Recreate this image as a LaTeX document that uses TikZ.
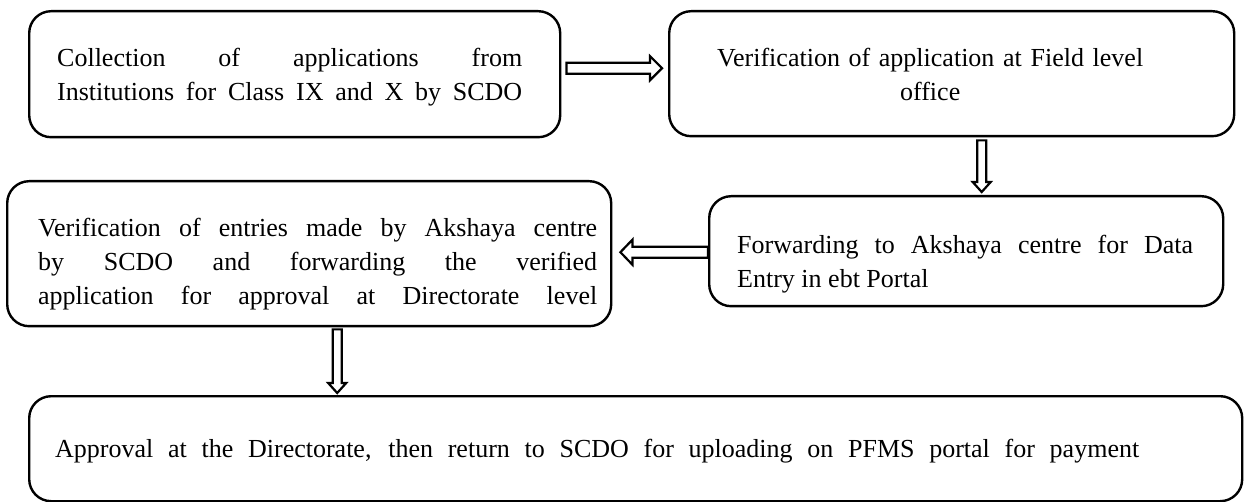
\documentclass[tikz,border=0pt]{standalone}
\usepackage{fontspec}
\setmainfont{Liberation Serif}
\usetikzlibrary{calc}

\tikzset{
  box/.style={draw, line width=2.4pt, rounded corners=22pt, inner sep=0pt, anchor=north west},
  boxtext/.style={anchor=north west, inner sep=0pt, align=justify,
    font=\fontsize{26}{34}\selectfont},
  fatarrow/.style={draw, line width=2.2pt, line join=miter, fill=white},
}

% a line spread out to the given width
\newcommand\fullline[2]{\makebox[#1][s]{#2}}

% Hollow block arrow from #1 (tail) to #2 (tip):
% #3 half shaft width, #4 half head width, #5 head length
\newcommand\hollowarrow[5]{%
  \path[fatarrow] let \p1=(#1), \p2=(#2),
      \n1={veclen(\x2-\x1,\y2-\y1)},
      \n2={(\x2-\x1)/(\n1)}, \n3={(\y2-\y1)/(\n1)} in
    ({\x1-(\n3)*(#3)}, {\y1+(\n2)*(#3)})
    -- ({\x2-(\n2)*(#5)-(\n3)*(#3)}, {\y2-(\n3)*(#5)+(\n2)*(#3)})
    -- ({\x2-(\n2)*(#5)-(\n3)*(#4)}, {\y2-(\n3)*(#5)+(\n2)*(#4)})
    -- (\x2,\y2)
    -- ({\x2-(\n2)*(#5)+(\n3)*(#4)}, {\y2-(\n3)*(#5)-(\n2)*(#4)})
    -- ({\x2-(\n2)*(#5)+(\n3)*(#3)}, {\y2-(\n3)*(#5)-(\n2)*(#3)})
    -- ({\x1+(\n3)*(#3)}, {\y1-(\n2)*(#3)}) -- cycle;}

\begin{document}
\begin{tikzpicture}[x=1pt, y=-1pt]
\useasboundingbox (0,0) rectangle (1244,502);

% process boxes
\node[box, minimum width=531pt, minimum height=126pt] (b1) at (28,10) {};
\node[box, minimum width=565pt, minimum height=125pt] (b2) at (668,10) {};
\node[box, minimum width=604pt, minimum height=145pt] (b3) at (6,180) {};
\node[box, minimum width=514pt, minimum height=110pt] (b4) at (708,195) {};
\node[box, minimum width=1213pt, minimum height=105pt] (b5) at (28,395) {};

% box texts
\node[boxtext, text width=465pt] (t1) at (57,48)
  {Collection of applications from\linebreak
   \fullline{465pt}{Institutions for Class IX and X by SCDO}};
\node[boxtext, text width=520pt, align=center] (t2) at (670,48)
  {Verification of application at Field level\\office};
\node[boxtext, text width=559pt] (t3) at (38,218)
  {Verification of entries made by Akshaya centre\linebreak
   by SCDO and forwarding the verified\linebreak
   \fullline{559pt}{application for approval at Directorate level}};
\node[boxtext, text width=456pt] (t4) at (737,235)
  {Forwarding to Akshaya centre for Data\linebreak Entry in ebt Portal};
\node[boxtext, text width=1084pt] (t5) at (55,439)
  {\fullline{1084pt}{Approval at the Directorate, then return to SCDO for uploading on PFMS portal for payment}};

% connector end points
\coordinate (a1s) at ($(b1.east)+(5,-6)$);
\coordinate (a1e) at ($(b2.west |- a1s)+(-6,0)$);
\coordinate (a2s) at ($(b2.south)+(30,3)$);
\coordinate (a2e) at ($(b4.north -| a2s)+(0,-3)$);
\coordinate (a3s) at ($(b4.west)+(0,1)$);
\coordinate (a3e) at ($(b3.east |- a3s)+(8,0)$);
\coordinate (a4s) at ($(b3.south)+(28,2)$);
\coordinate (a4e) at ($(b5.north -| a4s)+(0,-2)$);

% connectors
\hollowarrow{a1s}{a1e}{5.5pt}{12pt}{12pt}
\hollowarrow{a2s}{a2e}{4.5pt}{9pt}{10pt}
\hollowarrow{a3s}{a3e}{5.5pt}{12.5pt}{12pt}
\hollowarrow{a4s}{a4e}{4.5pt}{9pt}{10pt}
\end{tikzpicture}
\end{document}
